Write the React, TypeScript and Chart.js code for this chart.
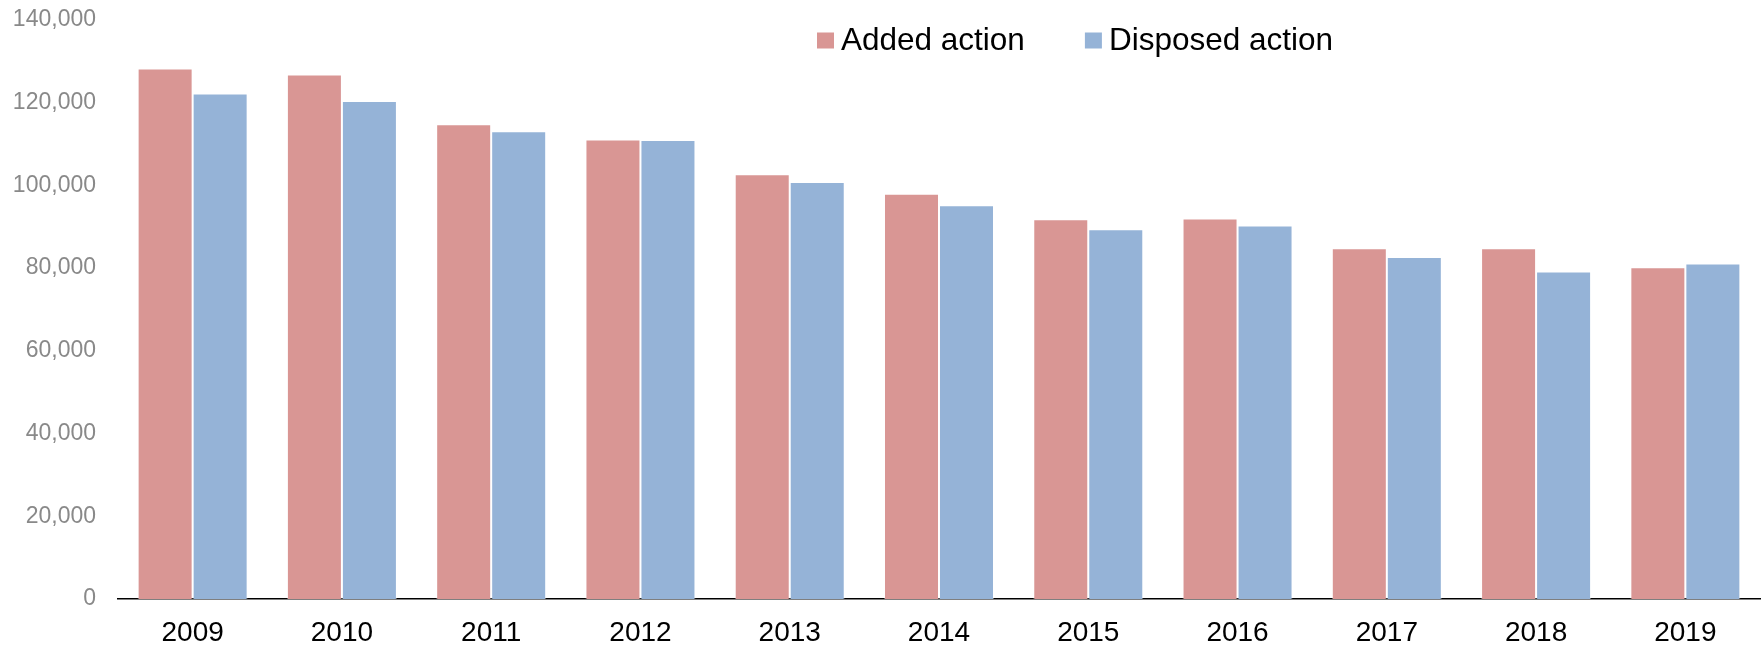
import React, { useEffect, useRef } from "react";
import { Chart, registerables } from "chart.js";

Chart.register(...registerables);

const categories = ["2009", "2010", "2011", "2012", "2013", "2014", "2015", "2016", "2017", "2018", "2019"];
const addedAction = [128300, 126800, 114800, 111100, 102700, 98000, 91800, 92000, 84800, 84800, 80200];
const disposedAction = [122200, 120400, 113100, 111000, 100800, 95200, 89400, 90300, 82700, 79200, 81100];
const seriesLabels = ["Added action", "Disposed action"];
const yTicks = { min: 0, max: 140000, step: 20000 };

const W = 1762;
const H = 646;
const LEGEND_LEFT = 817;
const LEGEND_BASELINE = 50;
const FONT = '"Liberation Sans", Arial, sans-serif';

const refLegend = {
  id: "refLegend",
  afterDraw(chart: any) {
    const ctx = chart.ctx;
    const items = chart.data.datasets;
    ctx.save();
    ctx.font = `31.5px ${FONT}`;
    ctx.textBaseline = "alphabetic";
    ctx.textAlign = "left";
    const boxW = 17;
    const boxH = 16;
    const gapText = 7;
    const gapItem = 60;
    let x = LEGEND_LEFT;
    items.forEach((d: any) => {
      ctx.fillStyle = d.backgroundColor;
      ctx.fillRect(x, LEGEND_BASELINE - 17.5, boxW, boxH);
      x += boxW + gapText;
      ctx.fillStyle = "#000";
      ctx.fillText(d.label, x, LEGEND_BASELINE);
      x += ctx.measureText(d.label).width + gapItem;
    });
    ctx.restore();
  },
};

export default function App() {
  const ref = useRef<HTMLCanvasElement | null>(null);

  useEffect(() => {
    if (!ref.current) return;
    const chart = new Chart(ref.current, {
      type: "bar",
      data: {
        labels: categories,
        datasets: [
          {
            label: seriesLabels[0],
            data: addedAction,
            backgroundColor: "#D99694",
            borderColor: "rgba(255,255,255,0.35)",
            borderWidth: 1,
            categoryPercentage: 0.737,
            barPercentage: 1,
          },
          {
            label: seriesLabels[1],
            data: disposedAction,
            backgroundColor: "#95B3D7",
            borderColor: "rgba(255,255,255,0.35)",
            borderWidth: 1,
            categoryPercentage: 0.737,
            barPercentage: 1,
          },
        ],
      },
      options: {
        responsive: false,
        animation: false,
        layout: { padding: { top: 20, right: 2, left: 0, bottom: 0 } },
        plugins: {
          legend: { display: false },
          tooltip: { enabled: false },
        },
        scales: {
          x: {
            grid: { display: false, drawTicks: false },
            border: { display: true, color: "#000", width: 1.5 },
            afterFit: (s: any) => {
              s.height = 47;
            },
            ticks: {
              color: "#000",
              font: { family: FONT, size: 28 },
              padding: 17,
              maxRotation: 0,
            },
          },
          y: {
            min: yTicks.min,
            max: yTicks.max,
            grid: { display: false, drawTicks: false },
            border: { display: false },
            afterFit: (s: any) => {
              s.width = 118;
              s.paddingTop = 0;
              s.paddingBottom = 0;
            },
            ticks: {
              stepSize: yTicks.step,
              color: "#898989",
              font: { family: FONT, size: 23 },
              padding: 22,
              callback: (v: any) => Number(v).toLocaleString("en-US"),
            },
          },
        },
      },
      plugins: [refLegend],
    });
    return () => chart.destroy();
  }, []);

  return (
    <div style={{ position: "fixed", left: 0, top: 0, width: W, height: H, background: "#fff" }}>
      <canvas ref={ref} width={W} height={H} />
    </div>
  );
}
